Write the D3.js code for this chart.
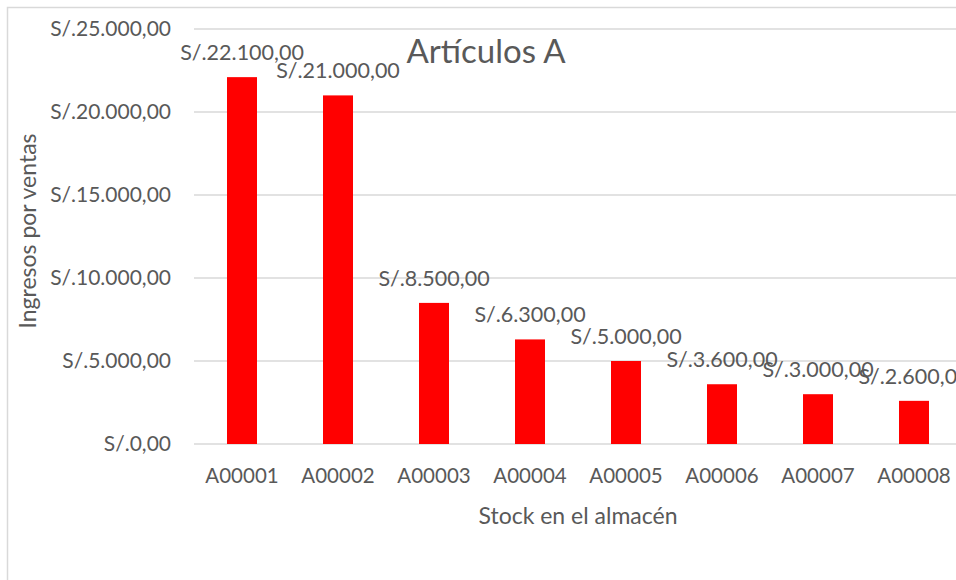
<!DOCTYPE html>
<html>
<head>
<meta charset="utf-8">
<script src="https://cdn.jsdelivr.net/npm/d3@7"></script>
<style>
  body { margin: 0; background: #fff; }
  text { font-family: Lato, "Open Sans", sans-serif; fill: #595959; }
</style>
</head>
<body>
<script>
// data
var categories = ["A00001", "A00002", "A00003", "A00004", "A00005", "A00006", "A00007", "A00008"];
var ingresos = [22100, 21000, 8500, 6300, 5000, 3600, 3000, 2600];
var yTicks = [0, 5000, 10000, 15000, 20000, 25000];

var svgWidth = 956;
var svgHeight = 580;

var margin = { top: 29, left: 194 };
var width = 768;   // runs past the right edge like the original
var height = 415;

var svg = d3.select("body")
  .append("svg")
  .attr("width", svgWidth)
  .attr("height", svgHeight);

// chart frame
svg.append("rect")
  .attr("x", 7.5).attr("y", 7.5)
  .attr("width", 1000).attr("height", 1000)
  .attr("fill", "none")
  .attr("stroke", "#d9d9d9")
  .attr("stroke-width", 1.5);

var chartGroup = svg.append("g")
  .attr("transform", `translate(${margin.left}, ${margin.top})`);

var x = d3.scaleBand()
  .domain(categories)
  .range([0, width])
  .paddingInner(0.6875)
  .paddingOuter(0.34375);

var y = d3.scaleLinear()
  .domain([0, 25000])
  .range([height, 0]);

// S/.25.000,00 style
var fmt = d3.formatLocale({ decimal: ",", thousands: ".", grouping: [3], currency: ["S/.", ""] }).format("$,.2f");

// gridlines
chartGroup.append("g")
  .selectAll("line")
  .data(yTicks)
  .enter()
  .append("line")
  .attr("x1", 0)
  .attr("x2", width)
  .attr("y1", d => y(d))
  .attr("y2", d => y(d))
  .attr("stroke", "#d9d9d9")
  .attr("stroke-width", 1.5);

// y axis labels
var leftAxis = d3.axisLeft(y).tickValues(yTicks).tickFormat(fmt).tickSize(0).tickPadding(23);
chartGroup.append("g")
  .call(leftAxis)
  .call(g => g.select(".domain").remove())
  .selectAll("text")
  .style("font-size", "21px")
  .attr("fill", "#595959");

// x axis labels
var bottomAxis = d3.axisBottom(x).tickSize(0).tickPadding(24);
chartGroup.append("g")
  .attr("transform", `translate(0, ${height})`)
  .call(bottomAxis)
  .call(g => g.select(".domain").remove())
  .selectAll("text")
  .style("font-size", "20.5px")
  .attr("fill", "#595959");

// bars
chartGroup.selectAll(".bar")
  .data(ingresos)
  .enter()
  .append("rect")
  .attr("class", "bar")
  .attr("x", (d, i) => x(categories[i]))
  .attr("width", x.bandwidth())
  .attr("y", d => y(d))
  .attr("height", d => height - y(d))
  .attr("fill", "#ff0000");

// data labels
chartGroup.selectAll(".lbl")
  .data(ingresos)
  .enter()
  .append("text")
  .attr("class", "lbl")
  .attr("x", (d, i) => x(categories[i]) + x.bandwidth() / 2)
  .attr("y", d => y(d) - 17)
  .attr("text-anchor", "middle")
  .style("font-size", "21.5px")
  .attr("fill", "#404040")
  .text(d => fmt(d));

// title
svg.append("text")
  .attr("x", 486)
  .attr("y", 63)
  .attr("text-anchor", "middle")
  .style("font-size", "33px")
  .text("Artículos A");

// axis titles
svg.append("text")
  .attr("x", 578)
  .attr("y", 524)
  .attr("text-anchor", "middle")
  .style("font-size", "23px")
  .text("Stock en el almacén");

svg.append("text")
  .attr("transform", "translate(36, 231) rotate(-90)")
  .attr("text-anchor", "middle")
  .style("font-size", "23px")
  .text("Ingresos por ventas");
</script>
</body>
</html>
